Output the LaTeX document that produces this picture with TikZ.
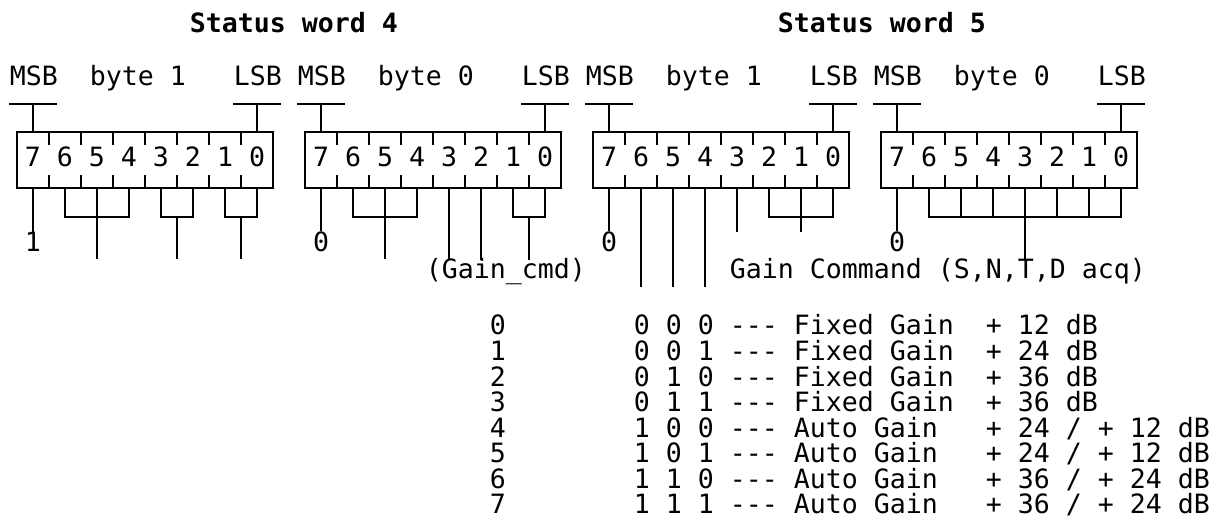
\documentclass[tikz,border=0pt]{standalone}
\usepackage{fontspec}
\setmonofont{DejaVu Sans Mono}
\usetikzlibrary{calc}

\tikzset{
  wire/.style={line width=1.9pt},
  digit/.style={inner sep=0pt, anchor=base, font=\ttfamily\fontsize{26.58}{32}\selectfont},
  txt/.style={inner sep=0pt, anchor=base west, font=\ttfamily\fontsize{26.58}{32}\selectfont},
  heading/.style={txt, font=\ttfamily\bfseries\fontsize{26.58}{32}\selectfont},
}

\begin{document}
\begin{tikzpicture}[x=16pt, y=-1pt, wire]
\fill[white] (-1.0625,0) rectangle (74.9375,529);
\useasboundingbox (-1.0625,0) rectangle (74.9375,529);

\node[heading] (sw4) at (10.75,33) {Status word 4};
\node[heading] (sw5) at (47.5,33) {Status word 5};

\foreach \bx/\bn/\nm in {0/1/s4hi, 18/0/s4lo, 36/1/s5hi, 54/0/s5lo} {
  \draw (\bx,132) rectangle (\bx+16,188);
  \foreach \k in {2,4,...,14} {
    \draw (\bx+\k,132) -- ++(0,13);
    \draw (\bx+\k,188) -- ++(0,-13);
  }
  \foreach \dg in {0,...,7} {
    \node[digit] (\nm-\dg) at (\bx+15-2*\dg,167) {\dg};
    \coordinate (\nm-\dg-b) at (\bx+15-2*\dg,188);
  }
  \node[txt] (\nm-msb) at (\bx-0.5,86) {MSB};
  \node[txt] (\nm-byte) at (\bx+4.5,86) {byte \bn};
  \node[txt] (\nm-lsb) at (\bx+13.5,86) {LSB};
  \draw (\bx-0.5,104) -- (\bx+2.5,104) (\bx+1,104) -- (\bx+1,132);
  \draw (\bx+13.5,104) -- (\bx+16.5,104) (\bx+15,104) -- (\bx+15,132);
}

% status word 4, byte 1
\node[digit] (v4hi) at (1,252) {1};
\draw (s4hi-7-b) -- (v4hi.north);
\draw (s4hi-6-b) -- ++(0,29) -| (s4hi-4-b);
\draw (s4hi-5-b) -- ++(0,71);
\draw (s4hi-3-b) -- ++(0,29) -| (s4hi-2-b);
\draw ($(s4hi-3-b)!0.5!(s4hi-2-b)$) ++(0,29) -- ++(0,42);
\draw (s4hi-1-b) -- ++(0,29) -| (s4hi-0-b);
\draw ($(s4hi-1-b)!0.5!(s4hi-0-b)$) ++(0,29) -- ++(0,42);

% status word 4, byte 0
\node[digit] (v4lo) at (19,252) {0};
\draw (s4lo-7-b) -- (v4lo.north);
\draw (s4lo-6-b) -- ++(0,29) -| (s4lo-4-b);
\draw (s4lo-5-b) -- ++(0,71);
\draw (s4lo-3-b) -- ++(0,72);
\draw (s4lo-2-b) -- ++(0,72);
\draw (s4lo-1-b) -- ++(0,29) -| (s4lo-0-b);
\draw ($(s4lo-1-b)!0.5!(s4lo-0-b)$) ++(0,29) -- ++(0,43);
\node[txt] (gcmd) at (25.5,279) {(Gain\_cmd)};

% status word 5, byte 1
\node[digit] (v5hi) at (37,252) {0};
\draw (s5hi-7-b) -- (v5hi.north);
\foreach \dg in {6,5,4} \draw (s5hi-\dg-b) -- ++(0,99);
\draw (s5hi-3-b) -- ++(0,44);
\draw (s5hi-2-b) -- ++(0,29) -| (s5hi-0-b);
\draw (s5hi-1-b) -- ++(0,44);
\node[txt] (gcomm) at (44.5,279) {Gain Command (S,N,T,D acq)};

% status word 5, byte 0
\node[digit] (v5lo) at (55,252) {0};
\draw (s5lo-7-b) -- (v5lo.north);
\draw (s5lo-6-b) -- ++(0,29) -| (s5lo-0-b);
\foreach \dg in {5,...,1} \draw (s5lo-\dg-b) -- ++(0,29);
\draw (s5lo-3-b) -- ++(0,71);

% gain table
\foreach \r/\bits/\kind/\gain in {0/0 0 0/Fixed Gain/+ 12 dB, 1/0 0 1/Fixed Gain/+ 24 dB,
    2/0 1 0/Fixed Gain/+ 36 dB, 3/0 1 1/Fixed Gain/+ 36 dB,
    4/1 0 0/Auto Gain/{+ 24 / + 12 dB}, 5/1 0 1/Auto Gain/{+ 24 / + 12 dB},
    6/1 1 0/Auto Gain/{+ 36 / + 24 dB}, 7/1 1 1/Auto Gain/{+ 36 / + 24 dB}} {
  \node[txt] (row\r) at (29.5,{335+25.57*\r}) {\r};
  \node[txt] (bits\r) at (38.5,{335+25.57*\r}) {\bits\ -{}-{}- \kind};
  \node[txt] (gain\r) at (60.5,{335+25.57*\r}) {\gain};
}
\end{tikzpicture}
\end{document}
